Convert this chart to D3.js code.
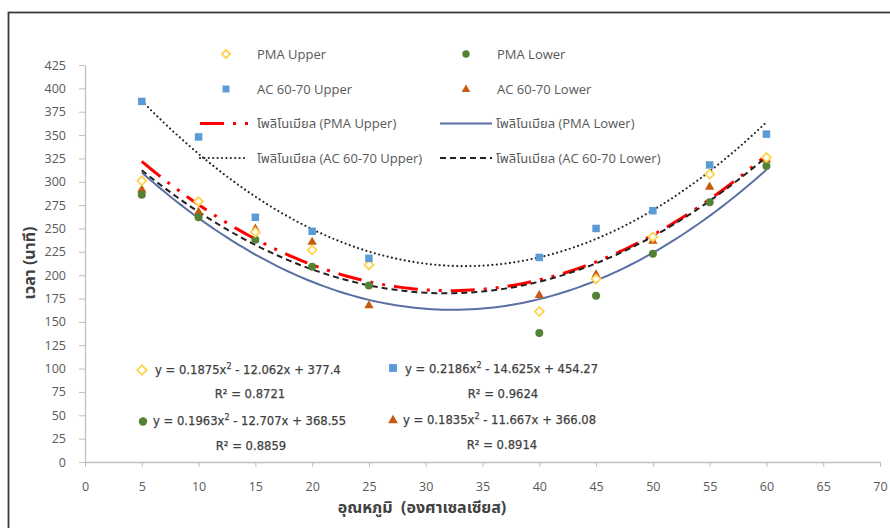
<!DOCTYPE html>
<html>
<head>
<meta charset="utf-8">
<script src="https://cdn.jsdelivr.net/npm/d3@7"></script>
<style>
  body { margin: 0; background: #fff; }
  svg { display: block; }
  .tick text { font-family: 'Open Sans', 'Noto Sans', sans-serif; font-size: 12.5px; fill: #595959; }
  .axis path, .axis line { stroke: #BFBFBF; }
  .leg { font-family: 'Open Sans', 'Noto Sans Thai', 'Noto Sans', Tahoma, sans-serif; font-size: 13px; fill: #595959; }
  .eq { font-family: 'DejaVu Sans', Verdana, sans-serif; font-size: 11.6px; fill: #404040; stroke: #404040; stroke-width: 0.25px; }
  .title { font-family: 'Noto Sans Thai', 'Noto Sans', Tahoma, sans-serif; font-size: 16px; font-weight: bold; fill: #404040; }
</style>
</head>
<body>
<svg width="890" height="528"></svg>
<script>
// อุณหภูมิ (องศาเซลเซียส)
var temps = [5, 10, 15, 20, 25, 40, 45, 50, 55, 60];

// เวลา (นาที)
var pmaUpper = [301, 279, 246, 227, 211, 161, 196, 241, 308, 326];
var pmaLower = [286, 262, 238, 209, 189, 138, 178, 223, 278, 317];
var acUpper  = [386, 348, 262, 247, 218, 219, 250, 269, 318, 351];
var acLower  = [292, 268, 250, 236, 168, 179, 201, 237, 295, 324];

var seriesNames = ["PMA Upper", "PMA Lower", "AC 60-70 Upper", "AC 60-70 Lower"];

// trendline coefficients: y = a x^2 + b x + c
var coefA = [0.1875, 0.1963, 0.2186, 0.1835];
var coefB = [-12.062, -12.707, -14.625, -11.667];
var coefC = [377.4, 368.55, 454.27, 366.08];
var rSquared = [0.8721, 0.8859, 0.9624, 0.8914];

var xTicks = d3.range(0, 71, 5);
var yTicks = d3.range(0, 426, 25);

var svg = d3.select("svg");

var x = d3.scaleLinear().domain([0, 70]).range([85, 880]);
var y = d3.scaleLinear().domain([0, 425]).range([462, 65]);

// frame
svg.append("rect")
  .attr("x", 8.5).attr("y", 12.5)
  .attr("width", 900).attr("height", 600)
  .attr("fill", "none")
  .attr("stroke", "#3a3a3a")
  .attr("stroke-width", 1.8);

// axes
svg.append("g")
  .attr("class", "axis")
  .attr("transform", "translate(85,0)")
  .call(d3.axisLeft(y).tickValues(yTicks).tickSize(6).tickSizeOuter(0).tickPadding(13));

svg.append("g")
  .attr("class", "axis")
  .attr("transform", "translate(0,462)")
  .call(d3.axisBottom(x).tickValues(xTicks).tickSize(5).tickSizeOuter(0).tickPadding(15));

svg.selectAll(".axis path").attr("stroke-width", 1.3);

// axis titles
svg.append("text")
  .attr("class", "title")
  .attr("transform", "translate(35,263) rotate(-90)")
  .attr("text-anchor", "middle")
  .text("เวลา (นาที)");

svg.append("text")
  .attr("class", "title")
  .attr("x", 422).attr("y", 513)
  .attr("text-anchor", "middle")
  .attr("xml:space", "preserve")
  .text("อุณหภูมิ  (องศาเซลเซียส)");

// trendline styles
var lineStyles = [
  { color: "#FF0000", width: 3, dash: "24,9,3,9,3,9", cap: "butt" },
  { color: "#5A6FA3", width: 2, dash: null, cap: "butt" },
  { color: "#222222", width: 2.2, dash: "0,4.4", cap: "round" },
  { color: "#222222", width: 2, dash: "6,4", cap: "butt" }
];

var line = d3.line()
  .x(function(d){ return x(d[0]); })
  .y(function(d){ return y(d[1]); });

var xs = d3.range(5, 60.01, 0.5);
[0, 1, 2, 3].forEach(function(i){
  var pts = xs.map(function(t){ return [t, coefA[i]*t*t + coefB[i]*t + coefC[i]]; });
  svg.append("path")
    .attr("d", line(pts))
    .attr("fill", "none")
    .attr("stroke", lineStyles[i].color)
    .attr("stroke-width", lineStyles[i].width)
    .attr("stroke-dasharray", lineStyles[i].dash)
    .attr("stroke-linecap", lineStyles[i].cap);
});

// markers
function marker(g, i, scale){
  scale = scale || 1;
  if(i === 0){
    g.append("path")
      .attr("d", d3.symbol().type(d3.symbolSquare).size(40*scale)())
      .attr("transform", "rotate(45)")
      .attr("fill", "#fff")
      .attr("stroke", "#FFD34E")
      .attr("stroke-width", 1.8);
  } else if(i === 1){
    g.append("circle").attr("r", 4*Math.sqrt(scale)).attr("fill", "#548235");
  } else if(i === 2){
    g.append("path")
      .attr("d", d3.symbol().type(d3.symbolSquare).size(56*scale)())
      .attr("fill", "#5B9BD5");
  } else {
    g.append("path")
      .attr("d", d3.symbol().type(d3.symbolTriangle).size(38*scale)())
      .attr("transform", "translate(0,0.5)")
      .attr("fill", "#C55A11");
  }
}

var seriesData = [pmaUpper, pmaLower, acUpper, acLower];
var drawOrder = [3, 1, 0, 2];
drawOrder.forEach(function(i){
  seriesData[i].forEach(function(v, k){
    var g = svg.append("g")
      .attr("transform", "translate(" + x(temps[k]) + "," + y(v) + ")");
    marker(g, i);
  });
});

// legend
var legCols = [0, 240];
var legRows = [54, 89, 123.5, 158];
[0, 1, 2, 3].forEach(function(i){
  var lx = legCols[i % 2];
  var ly = legRows[Math.floor(i / 2)];
  var g = svg.append("g").attr("transform", "translate(" + (226 + lx) + "," + ly + ")");
  marker(g, i, 0.85);
  svg.append("text").attr("class", "leg")
    .attr("x", 257 + lx).attr("y", ly + 4.5)
    .text(seriesNames[i]);
});
[0, 1, 2, 3].forEach(function(i){
  var ly = legRows[2 + Math.floor(i / 2)];
  svg.append("line")
    .attr("x1", (i % 2 ? 440 : 200)).attr("x2", (i % 2 ? 492 : 248))
    .attr("y1", ly).attr("y2", ly)
    .attr("stroke", lineStyles[i].color)
    .attr("stroke-width", lineStyles[i].width)
    .attr("stroke-dasharray", lineStyles[i].dash)
    .attr("stroke-linecap", lineStyles[i].cap);
  svg.append("text").attr("class", "leg")
    .attr("x", (i % 2 ? 496 : 257)).attr("y", ly + 4.5)
    .text("โพลิโนเมียล (" + seriesNames[i] + ")");
});

// equation labels
var eqPos = [
  { mx: 142, my: 370, tx: 155, ty: 374, rx: 250, ry: 398 },
  { mx: 143, my: 421.5, tx: 153, ty: 425, rx: 251, ry: 450 },
  { mx: 393, my: 368, tx: 405, ty: 373, rx: 503, ry: 398 },
  { mx: 393, my: 420, tx: 403, ty: 424, rx: 502, ry: 449 }
];
function sign(v){ return v < 0 ? " - " + Math.abs(v) : " + " + v; }
[0, 1, 2, 3].forEach(function(i){
  var p = eqPos[i];
  var g = svg.append("g").attr("transform", "translate(" + p.mx + "," + p.my + ")");
  marker(g, i, 1.1);
  var t = svg.append("text").attr("class", "eq").attr("x", p.tx).attr("y", p.ty)
    .attr("xml:space", "preserve");
  t.append("tspan").text("y = " + coefA[i] + "x");
  t.append("tspan").attr("dy", -5).attr("font-size", "8px").text("2");
  t.append("tspan").attr("dy", 5).text(sign(coefB[i]) + "x" + sign(coefC[i]));
  svg.append("text").attr("class", "eq")
    .attr("x", p.rx).attr("y", p.ry)
    .attr("text-anchor", "middle")
    .text("R² = " + rSquared[i]);
});
</script>
</body>
</html>
